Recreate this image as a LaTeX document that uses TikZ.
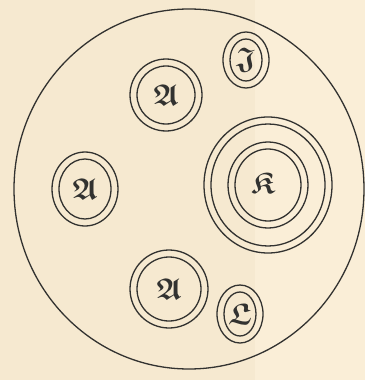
\documentclass[tikz,border=0pt]{standalone}
\usepackage{amssymb}
\definecolor{papier}{RGB}{246,233,208}
\definecolor{papierhell}{RGB}{250,238,215}
\definecolor{tinte}{RGB}{50,50,48}
\tikzset{ring/.style={draw=tinte, line width=1.3pt},
	marke/.style={text=tinte, inner sep=0pt, font=\boldmath\fontsize{30}{32}\selectfont}}
\begin{document}
\begin{tikzpicture}[x=1pt, y=-1pt, line join=round, line cap=round]
	\fill[papier] (0,0) rectangle (255,380);
	\fill[papierhell] (255,0) rectangle (365,380);
	\useasboundingbox (0,0) rectangle (365,380);
	% grosser Kreis
	\coordinate (M) at (189,189);
	\draw[ring] (M) ellipse [x radius=175, y radius=180];
	% Kern mit vier Ringen
	\coordinate (K) at (268,185);
	\foreach \rx/\ry in {64/68, 57/61, 40/43, 33/36}
	\draw[ring] (K) ellipse [x radius=\rx, y radius=\ry];
	\node[marke] (k) at (263,183) {$\mathfrak{K}$};
	% kleine Doppelringe
	\foreach \n/\px/\py/\rx/\ry/\t in {a1/166/95/36/36/A, a2/85/189/33/37/A, a3/169/289/39/39/A, j/246/60/23/28/J, l/240/314/23/29/L}
	{
		\draw[ring] (\px,\py) ellipse [x radius=\rx, y radius=\ry];
		\draw[ring] (\px,\py) ellipse [x radius=\rx-7, y radius=\ry-7];
		\node[marke] (\n) at (\px,\py) {$\mathfrak{\t}$};
	}
\end{tikzpicture}
\end{document}
